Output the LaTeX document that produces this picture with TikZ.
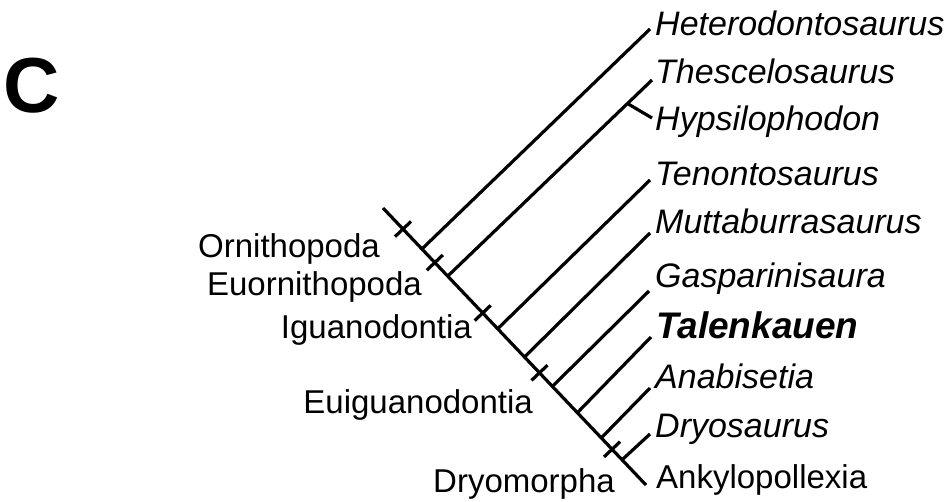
\documentclass[tikz,border=0pt]{standalone}
\usepackage{fontspec}
\setmainfont{Liberation Sans}
\usetikzlibrary{calc}
\tikzset{
  br/.style={line width=3.2pt},
  taxon/.style={anchor=base west, inner sep=0pt, font=\fontsize{34}{40}\selectfont\itshape},
  clade/.style={anchor=base east, inner sep=0pt, font=\fontsize{33}{40}\selectfont},
}
\begin{document}
\begin{tikzpicture}[x=1pt,y=-1pt]
\useasboundingbox (0,0) rectangle (949,501);
% panel letter
\node[anchor=base west, inner sep=0pt, font=\fontsize{78}{84}\selectfont\bfseries] (C) at (3,112) {C};
% backbone
\coordinate (root) at (383,208);
\coordinate (ank) at (646,485);
\draw[br] (root) -- (ank);
\path (root) -- (ank)
  coordinate[pos=0.148] (bHet)
  coordinate[pos=0.246] (bThes)
  coordinate[pos=0.436] (bTen)
  coordinate[pos=0.538] (bMut)
  coordinate[pos=0.644] (bGas)
  coordinate[pos=0.739] (bTal)
  coordinate[pos=0.830] (bAna)
  coordinate[pos=0.909] (bDry)
  coordinate[pos=0.076] (tOrn)
  coordinate[pos=0.197] (tEuo)
  coordinate[pos=0.379] (tIgu)
  coordinate[pos=0.595] (tEui)
  coordinate[pos=0.871] (tDryo);
% tips
\coordinate (eHet) at (650,29);
\coordinate (eThes) at (652,80);
\coordinate (eHyp) at (652,118);
\coordinate (eTen) at (650,180);
\coordinate (eMut) at (650,233);
\coordinate (eGas) at (649,291);
\coordinate (eTal) at (651,337);
\coordinate (eAna) at (650,388);
\coordinate (eDry) at (650,434);
% branches
\draw[br] (bHet) -- (eHet);
\draw[br] (bThes) -- (eThes);
\path (bThes) -- (eThes) coordinate[pos=0.88] (fork);
\draw[br] (fork) -- (eHyp);
\draw[br] (bTen) -- (eTen);
\draw[br] (bMut) -- (eMut);
\draw[br] (bGas) -- (eGas);
\draw[br] (bTal) -- (eTal);
\draw[br] (bAna) -- (eAna);
\draw[br] (bDry) -- (eDry);
% ticks
\foreach \t in {tOrn,tEuo,tIgu,tEui,tDryo}{
  \draw[br] ([shift={(-8,7.6)}]\t) -- ([shift={(8,-7.6)}]\t);
}
% taxon labels
\node[taxon] (lHet) at (655,35) {Heterodontosaurus};
\node[taxon] (lThes) at (655,83) {Thescelosaurus};
\node[taxon] (lHyp) at (655,130) {Hypsilophodon};
\node[taxon] (lTen) at (655,185) {Tenontosaurus};
\node[taxon] (lMut) at (655,233) {Muttaburrasaurus};
\node[taxon] (lGas) at (655,287) {Gasparinisaura};
\node[taxon, font=\fontsize{37}{42}\selectfont\bfseries\itshape] (lTal) at (656,338) {Talenkauen};
\node[taxon] (lAna) at (655,388) {Anabisetia};
\node[taxon] (lDry) at (655,437) {Dryosaurus};
\node[taxon, font=\fontsize{33}{40}\selectfont] (lAnk) at (656,488) {Ankylopollexia};
% clade labels
\node[clade] (cOrn) at (380,257) {Ornithopoda};
\node[clade] (cEuo) at (422,295) {Euornithopoda};
\node[clade] (cIgu) at (472,338) {Iguanodontia};
\node[clade] (cEui) at (533,413) {Euiguanodontia};
\node[clade] (cDryo) at (615,492) {Dryomorpha};
\end{tikzpicture}
\end{document}
